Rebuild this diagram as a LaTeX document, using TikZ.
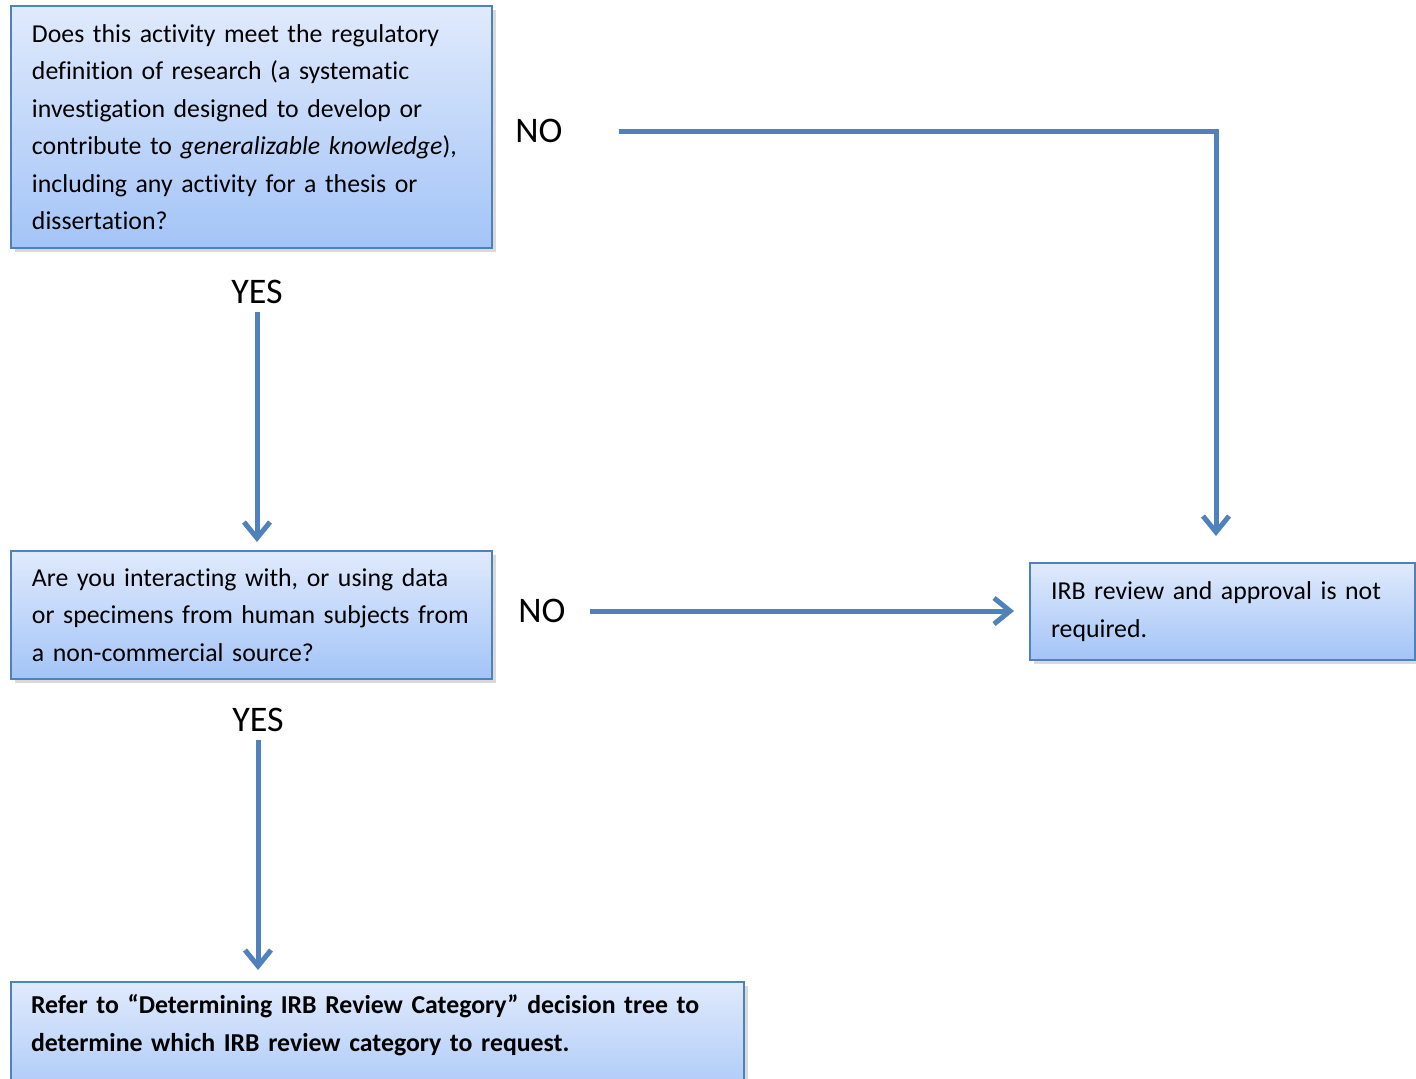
\documentclass[tikz,border=0pt]{standalone}
\usepackage{fontspec}
\setmainfont{Carlito}[Ligatures=NoCommon]
\usetikzlibrary{arrows.meta,positioning,shadows,calc}
\definecolor{officeblue}{RGB}{79,129,189}
\definecolor{boxtop}{RGB}{224,234,252}
\definecolor{boxbottom}{RGB}{163,196,247}
\newcommand{\boxfont}{\fontsize{12.9}{18.75}\selectfont}
\newcommand{\labfont}{\fontsize{18}{22}\selectfont}
\tikzset{
  box/.style={draw=officeblue, line width=1pt, top color=boxtop, bottom color=boxbottom,
    anchor=north west, align=left, inner xsep=10.5pt, inner ysep=0pt,
    font=\boxfont, drop shadow={shadow xshift=2pt, shadow yshift=-2pt, opacity=0.3}},
  lab/.style={font=\labfont, inner sep=2pt},
  arr/.style={draw=officeblue, line width=2.5pt, -{Straight Barb[length=8pt,width=13pt]}}
}

\begin{document}
\begin{tikzpicture}[x=0.5pt,y=-0.5pt]
        \useasboundingbox (0,0) rectangle (1416,1078);
        %nodes
        \node[box, text width=219.5pt, minimum height=121pt] (q1) at (10,5)
          {Does this activity meet the regulatory\\ definition of research (a systematic\\ investigation designed to develop or\\ contribute to \textit{generalizable knowledge}),\\ including any activity for a thesis or\\ dissertation?};
        \node[box, text width=219.5pt, minimum height=64pt] (q2) at (10,550)
          {Are you interacting with, or using data\\ or specimens from human subjects from\\ a non-commercial source?};
        \node[box, text width=171.5pt, minimum height=48.5pt] (irb) at (1029,562)
          {IRB review and approval is not\\ required.};
        \node[box, text width=346.5pt, inner xsep=10pt, minimum height=65.5pt, font=\boxfont\bfseries] (refer) at (10,981)
          {Refer to “Determining IRB Review Category” decision tree to\\ determine which IRB review category to request.\\ \strut};
        \coordinate (irbin) at ([xshift=-3.25pt]irb.north);
        \node[lab] (no1) at (539,131) {NO};
        \node[lab] (yes1) at (257,292) {YES};
        \node[lab] (no2) at (542,611) {NO};
        \node[lab] (yes2) at (258,720) {YES};
        %edges
        \path [arr, shorten <=26pt, shorten >=13pt] (no1) -| (irbin);
        \path [arr, shorten <=2pt, shorten >=4pt] (yes1) -- (yes1 |- q2.north);
        \path [arr, shorten <=10pt, shorten >=7.5pt] (no2) -- (no2 -| irb.west);
        \path [arr, shorten <=2pt, shorten >=5.5pt] (yes2) -- (yes2 |- refer.north);
      \end{tikzpicture}
\end{document}
